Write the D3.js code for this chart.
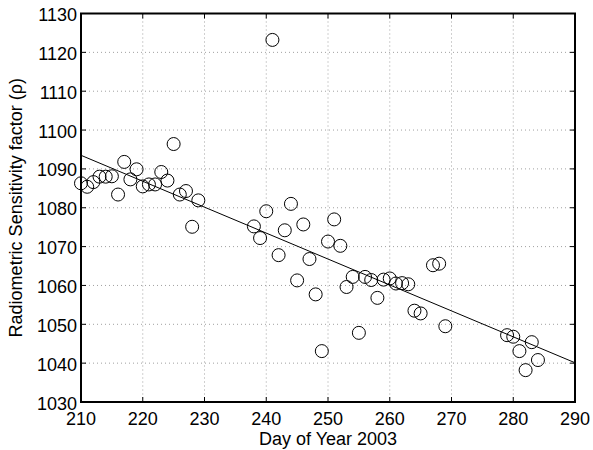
<!DOCTYPE html>
<html>
<head>
<meta charset="utf-8">
<script src="https://cdn.jsdelivr.net/npm/d3@7"></script>
<style>
  body { margin: 0; background: #fff; }
  svg { display: block; font-family: "Liberation Sans", Arial, sans-serif; }
</style>
</head>
<body>
<svg width="593" height="450"></svg>
<script>
const svg = d3.select("svg");

// measured points (day of year, sensitivity factor)
const days = [210, 211, 212, 213, 214, 215, 216, 217, 218, 219, 220, 221, 222, 223, 224, 225,
  226, 227, 228, 229, 238, 239, 240, 241, 242, 243, 244, 245, 246, 247, 248, 249,
  250, 251, 252, 253, 254, 255, 256, 257, 258, 259, 260, 261, 262, 263, 264, 265,
  267, 268, 269, 279, 280, 281, 282, 283, 284];
const rho = [1086.3, 1085.4, 1086.6, 1088, 1088, 1088.1, 1083.4, 1091.8, 1087.3, 1089.9, 1085.5, 1086, 1086, 1089.2, 1087, 1096.4,
  1083.4, 1084.3, 1075.1, 1081.9, 1075.2, 1072.2, 1079.1, 1123.2, 1067.8, 1074.2, 1081, 1061.3, 1075.7, 1066.8, 1057.7, 1043.1,
  1071.3, 1077, 1070.2, 1059.6, 1062.2, 1047.8, 1062.2, 1061.4, 1056.8, 1061.5, 1061.8, 1060.5, 1060.6, 1060.3, 1053.5, 1052.8,
  1065.2, 1065.6, 1049.5, 1047.2, 1046.8, 1043.1, 1038.2, 1045.4, 1040.8];

// linear fit (endpoints)
const fitDays = [210, 290];
const fitRho = [1093.5, 1040.1];

const xTicks = [210, 220, 230, 240, 250, 260, 270, 280, 290];
const yTicks = [1030, 1040, 1050, 1060, 1070, 1080, 1090, 1100, 1110, 1120, 1130];

const pl = 81, pr = 575, pt = 13.5, pb = 402;

const x = d3.scaleLinear().domain([210, 290]).range([pl, pr]);
const y = d3.scaleLinear().domain([1030, 1130]).range([pb, pt]);

// grid
const grid = svg.append("g")
  .attr("stroke", "#a0a0a0")
  .attr("stroke-width", 1)
  .attr("stroke-dasharray", "1 3");
grid.selectAll(".gx").data(xTicks.slice(1, -1)).enter().append("line")
  .attr("x1", d => x(d)).attr("x2", d => x(d))
  .attr("y1", pt).attr("y2", pb);
grid.selectAll(".gy").data(yTicks.slice(1, -1)).enter().append("line")
  .attr("x1", pl).attr("x2", pr)
  .attr("y1", d => y(d)).attr("y2", d => y(d));

// fit line
svg.append("line")
  .attr("x1", x(fitDays[0])).attr("y1", y(fitRho[0]))
  .attr("x2", x(fitDays[1])).attr("y2", y(fitRho[1]))
  .attr("stroke", "#000").attr("stroke-width", 1);

// points
svg.append("g")
  .selectAll("circle")
  .data(days.map((d, i) => ({ day: d, v: rho[i] })))
  .enter()
  .append("circle")
  .attr("cx", d => x(d.day))
  .attr("cy", d => y(d.v))
  .attr("r", 6.5)
  .attr("fill", "none")
  .attr("stroke", "#000")
  .attr("stroke-width", 1);

// ticks on all four sides, pointing inward
const tk = svg.append("g").attr("stroke", "#000").attr("stroke-width", 1);
xTicks.forEach(t => {
  tk.append("line").attr("x1", x(t)).attr("x2", x(t)).attr("y1", pb).attr("y2", pb - 5);
  tk.append("line").attr("x1", x(t)).attr("x2", x(t)).attr("y1", pt).attr("y2", pt + 5);
});
yTicks.forEach(t => {
  tk.append("line").attr("x1", pl).attr("x2", pl + 5).attr("y1", y(t)).attr("y2", y(t));
  tk.append("line").attr("x1", pr).attr("x2", pr - 5).attr("y1", y(t)).attr("y2", y(t));
});

// box
svg.append("rect")
  .attr("x", pl).attr("y", pt)
  .attr("width", pr - pl).attr("height", pb - pt)
  .attr("fill", "none").attr("stroke", "#000").attr("stroke-width", 2);

// tick labels
svg.append("g").selectAll("text").data(xTicks).enter().append("text")
  .attr("x", d => x(d)).attr("y", pb + 23)
  .attr("text-anchor", "middle")
  .attr("font-size", 18)
  .text(d => d);
svg.append("g").selectAll("text").data(yTicks).enter().append("text")
  .attr("x", pl - 4).attr("y", d => y(d) + 7.5)
  .attr("text-anchor", "end")
  .attr("font-size", 18)
  .text(d => d);

// axis labels
svg.append("text")
  .attr("x", (pl + pr) / 2).attr("y", 445)
  .attr("text-anchor", "middle")
  .attr("font-size", 18)
  .text("Day of Year 2003");
svg.append("text")
  .attr("transform", `translate(22,${(pt + pb) / 2}) rotate(-90)`)
  .attr("text-anchor", "middle")
  .attr("font-size", 18)
  .text("Radiometric Sensitivity factor (ρ)");
</script>
</body>
</html>
